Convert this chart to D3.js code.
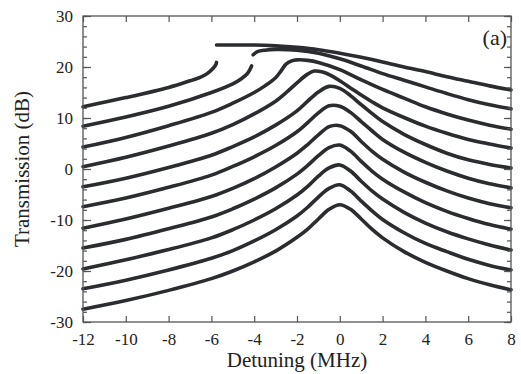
<!DOCTYPE html>
<html>
<head>
<meta charset="utf-8">
<script src="https://cdn.jsdelivr.net/npm/d3@7/dist/d3.min.js"></script>
<style>
body { margin: 0; background: #fff; }
text { font-family: "Liberation Serif", "Times New Roman", serif; fill: #222; }
</style>
</head>
<body>
<svg width="521" height="374"></svg>
<script>
// detuning grid (MHz) shared by the lower, single-valued traces
var detuning = [-12, -10, -8, -6, -5, -4, -3, -2, -1.5, -1, -0.5, 0, 0.5, 1, 1.5, 2, 3, 4, 5, 6, 7, 8];

var trace5 = [-3.5, -1.8, 0.3, 2.7, 4.4, 6.3, 8.6, 11.4, 13.3, 15.1, 16.2, 15.8, 14.4, 12.6, 10.9, 9.3, 6.8, 4.8, 3.1, 1.8, 0.9, 0.2];
var trace6 = [-7.4, -5.7, -3.6, -1.2, 0.5, 2.4, 4.6, 7.3, 9.1, 11.0, 12.4, 12.3, 11.1, 9.3, 7.5, 5.8, 3.3, 1.3, -0.4, -1.8, -2.9, -3.7];
var trace7 = [-11.6, -9.8, -7.7, -5.4, -3.8, -1.9, 0.4, 3.1, 4.8, 6.7, 8.3, 8.5, 7.4, 5.4, 3.5, 1.9, -0.6, -2.6, -4.3, -5.7, -6.8, -7.6];
var trace8 = [-15.5, -13.8, -11.7, -9.4, -7.8, -5.9, -3.7, -1.0, 0.7, 2.6, 4.2, 4.7, 3.5, 1.5, -0.4, -2.0, -4.5, -6.6, -8.3, -9.7, -10.9, -11.8];
var trace9 = [-19.6, -17.8, -15.8, -13.5, -11.9, -10.0, -7.8, -5.1, -3.4, -1.4, 0.2, 0.8, -0.4, -2.4, -4.3, -5.9, -8.5, -10.6, -12.3, -13.7, -14.9, -15.9];
var trace10 = [-23.5, -21.8, -19.8, -17.5, -16.0, -14.1, -11.9, -9.2, -7.5, -5.5, -3.8, -3.1, -4.3, -6.3, -8.2, -9.9, -12.5, -14.6, -16.2, -17.7, -18.9, -19.8];
var trace11 = [-27.5, -25.8, -23.8, -21.5, -20.0, -18.2, -16.1, -13.4, -11.8, -9.8, -7.9, -7.0, -7.9, -9.8, -11.8, -13.5, -16.2, -18.3, -20.0, -21.5, -22.7, -23.7];

// upper traces, [detuning, dB]; bistable ones split in lower / upper branch
var trace4 = [[-12, 0.45], [-10, 2.3], [-8, 4.5], [-6, 7.0], [-5, 8.7], [-4, 10.8], [-3, 13.3], [-2.5, 15.0], [-2, 16.9], [-1.5, 18.6], [-1.2, 19.2], [-0.8, 19.0], [-0.4, 18.3], [0, 17.3], [0.5, 15.9], [1, 14.5], [1.5, 13.2], [2, 12.0], [3, 10.1], [4, 8.4], [5, 7.0], [6, 5.8], [7, 4.9], [8, 4.1]];
var trace3 = [[-12, 4.3], [-10, 6.2], [-8, 8.5], [-6, 11.1], [-5, 12.9], [-4, 15.0], [-3.5, 16.3], [-3, 17.9], [-2.75, 19.2], [-2.5, 20.6], [-2.25, 21.2], [-2, 21.4], [-1.5, 21.3], [-1, 20.9], [0, 19.5], [1, 17.5], [2, 15.6], [3, 13.9], [4, 12.2], [5, 10.8], [6, 9.6], [7, 8.6], [8, 7.8]];
var trace2Low = [[-12, 8.4], [-10, 10.2], [-8, 12.3], [-6, 15.0], [-5, 16.7], [-4.6, 17.7], [-4.3, 18.8], [-4.12, 20.2]];
var trace2High = [[-4.05, 22.4], [-3.85, 23.0], [-3.5, 23.3], [-3, 23.45], [-2, 23.3], [-1, 22.7], [0, 21.6], [1, 20.2], [2, 18.7], [3, 17.4], [4, 16.1], [5, 14.8], [6, 13.6], [7, 12.6], [8, 11.8]];
var trace1Low = [[-12, 12.2], [-10, 14.0], [-8, 16.0], [-7, 17.3], [-6.5, 18.0], [-6.2, 18.7], [-5.95, 19.6], [-5.8, 20.4], [-5.76, 20.9]];
var trace1High = [[-5.76, 24.3], [-5, 24.3], [-4, 24.3], [-3, 24.15], [-2, 23.85], [-1, 23.4], [0, 22.7], [1, 21.9], [2, 21.0], [3, 20.0], [4, 19.1], [5, 18.1], [6, 17.2], [7, 16.3], [8, 15.5]];

var xTicks = [-12, -10, -8, -6, -4, -2, 0, 2, 4, 6, 8];
var yTicks = [-30, -20, -10, 0, 10, 20, 30];
var yMinor = d3.range(-30, 31, 2);

var svg = d3.select("svg"),
    margin = {top: 16, right: 10, bottom: 52, left: 83},
    x0 = margin.left, x1 = 521 - margin.right,
    y0 = margin.top, y1 = 374 - margin.bottom;

var x = d3.scaleLinear().domain([-12, 8]).range([x0, x1]);
var y = d3.scaleLinear().domain([-30, 30]).range([y1, y0]);

var line = d3.line()
    .x(function(d) { return x(d[0]); })
    .y(function(d) { return y(d[1]); })
    .curve(d3.curveCatmullRom.alpha(0.5));

var gridTraces = [trace5, trace6, trace7, trace8, trace9, trace10, trace11].map(function(vals) {
    return vals.map(function(v, i) { return [detuning[i], v]; });
});
var allTraces = [trace1Low, trace1High, trace2Low, trace2High, trace3, trace4].concat(gridTraces);

svg.append("g").selectAll("path")
    .data(allTraces)
    .enter()
    .append("path")
    .attr("fill", "none")
    .attr("stroke", "#2a2c30")
    .attr("stroke-width", 3.6)
    .attr("stroke-linejoin", "round")
    .attr("stroke-linecap", "round")
    .attr("d", line);

// frame and ticks
var fmt = function(d) { return String(d); };
var axisColor = "#555";

svg.append("g").attr("transform", "translate(0," + y1 + ")")
    .call(d3.axisBottom(x).tickValues(xTicks).tickSize(-6).tickPadding(11).tickFormat(fmt));
svg.append("g").attr("transform", "translate(0," + y0 + ")")
    .call(d3.axisTop(x).tickValues(xTicks).tickSize(-6).tickFormat(""));
svg.append("g").attr("transform", "translate(" + x0 + ",0)")
    .call(d3.axisLeft(y).tickValues(yTicks).tickSize(-8).tickPadding(10).tickFormat(fmt));
svg.append("g").attr("transform", "translate(" + x0 + ",0)")
    .call(d3.axisLeft(y).tickValues(yMinor).tickSize(-4).tickFormat(""));
svg.append("g").attr("transform", "translate(" + x1 + ",0)")
    .call(d3.axisRight(y).tickValues(yTicks).tickSize(-7).tickFormat(""));
svg.append("g").attr("transform", "translate(" + x1 + ",0)")
    .call(d3.axisRight(y).tickValues(yMinor).tickSize(-4).tickFormat(""));

svg.selectAll(".domain").remove();
svg.selectAll(".tick line").attr("stroke", axisColor).attr("stroke-width", 1.2);
svg.selectAll(".tick text").style("font-size", "17px").attr("fill", "#222")
    .style("font-family", "'Liberation Serif', serif");

svg.append("rect")
    .attr("x", x0).attr("y", y0)
    .attr("width", x1 - x0).attr("height", y1 - y0)
    .attr("fill", "none")
    .attr("stroke", axisColor)
    .attr("stroke-width", 1.3);

svg.append("text")
    .attr("x", (x0 + x1) / 2)
    .attr("y", 367)
    .attr("text-anchor", "middle")
    .style("font-size", "21px")
    .text("Detuning (MHz)");

svg.append("text")
    .attr("transform", "translate(29," + ((y0 + y1) / 2) + ") rotate(-90)")
    .attr("text-anchor", "middle")
    .style("font-size", "21px")
    .text("Transmission (dB)");

svg.append("text")
    .attr("x", 507)
    .attr("y", 45)
    .attr("text-anchor", "end")
    .style("font-size", "22px")
    .text("(a)");
</script>
</body>
</html>
